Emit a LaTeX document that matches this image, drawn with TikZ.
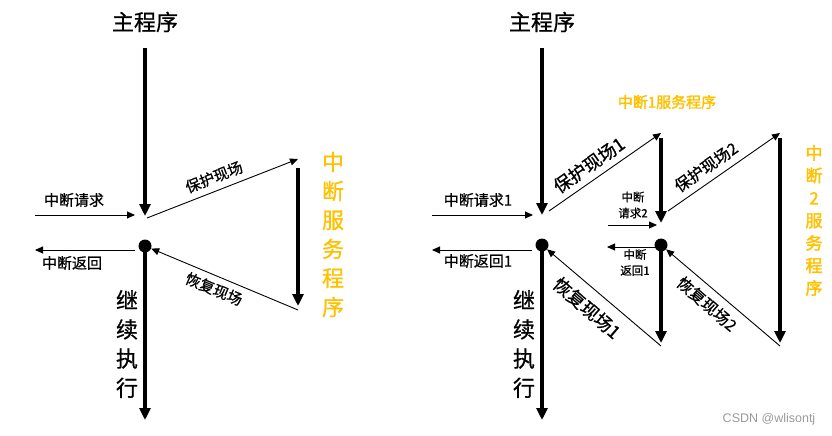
\documentclass[tikz,border=0pt]{standalone}
\usepackage{fontspec}
\setmainfont{Noto Sans CJK SC}
\newfontfamily\medfont{Noto Sans CJK SC}[FakeBold=0.8]
\newfontfamily\boldfont{Noto Sans CJK SC}[FakeBold=2]
\newfontfamily\latinsans{Liberation Sans}
\usetikzlibrary{arrows.meta}
\definecolor{svc}{HTML}{FFC000}
\definecolor{wm}{HTML}{9A9A9A}
\tikzset{
  x=1pt, y=-1pt,
  bigarrow/.style={line width=3.2pt, -{Triangle[length=12pt,width=11pt]}},
  thinarrow/.style={line width=0.9pt, -{Triangle[length=8pt,width=7pt]}},
  title/.style={font=\medfont\fontsize{22}{26}\selectfont, inner sep=0pt},
  lbl/.style={font=\medfont\fontsize{15}{17}\selectfont, inner sep=0pt},
  rlbla/.style={font=\medfont\fontsize{18}{20}\selectfont, inner sep=0pt},
  rlblb/.style={font=\medfont\fontsize{16}{18}\selectfont, inner sep=0pt},
  small/.style={font=\medfont\fontsize{11.5}{16}\selectfont, align=center, inner sep=0pt},
  vbig/.style={font=\medfont\fontsize{22}{29.2}\selectfont, align=center, inner sep=0pt},
  vsvcbig/.style={font=\medfont\fontsize{22}{29}\selectfont, align=center, inner sep=0pt, text=svc},
  vsvcsmall/.style={font=\boldfont\fontsize{17}{22.5}\selectfont, align=center, inner sep=0pt, text=svc},
  dot/.style={circle, fill=black, minimum size=13pt, inner sep=0pt},
}
\begin{document}
\begin{tikzpicture}
\useasboundingbox (0,0) rectangle (832,436);

% ---------------- left diagram ----------------
\node[title] (lt) at (145,22) {主程序};
\coordinate (lms) at (145,48);
\coordinate (lj) at (145,216);
\draw[bigarrow] (lms) -- (lj);

\coordinate (lrq0) at (35,215);
\coordinate (lrq1) at (135,215);
\draw[thinarrow] (lrq0) -- (lrq1);
\node[lbl] (lrqt) at (74,200) {中断请求};

\coordinate (lps) at (147,218);
\coordinate (lpe) at (298,159);
\draw[thinarrow] (lps) -- (lpe);
\node[lbl, rotate=21.3] (lpt) at (214,177) {保护现场};

\coordinate (lss) at (298,168);
\coordinate (lse) at (298,306);
\draw[bigarrow] (lss) -- (lse);
\node[vsvcbig] (lsvc) at (333,234.5) {中\\断\\服\\务\\程\\序};

\node[dot] (ld) at (145,246) {};
\coordinate (lrs) at (298,310);
\draw[thinarrow] (lrs) -- (ld);
\node[lbl, rotate=-22.7] (lrt) at (214,289) {恢复现场};

\coordinate (lrt0) at (135,250);
\coordinate (lrt1) at (35,250);
\draw[thinarrow] (lrt0) -- (lrt1);
\node[lbl] (lrtt) at (72,263) {中断返回};

\coordinate (lce) at (145,420);
\draw[bigarrow] (ld.center) -- (lce);
\node[vbig] (lct) at (127,344) {继\\续\\执\\行};

% ---------------- right diagram ----------------
\node[title] (rt) at (542,22) {主程序};
\coordinate (rms) at (542,48);
\coordinate (rj) at (542,215);
\draw[bigarrow] (rms) -- (rj);

\coordinate (rrq0) at (432,215);
\coordinate (rrq1) at (533,215);
\draw[thinarrow] (rrq0) -- (rrq1);
\node[lbl] (rrqt) at (478,200) {中断请求1};

\coordinate (rp1s) at (549,211);
\coordinate (rp1e) at (661,133);
\draw[thinarrow] (rp1s) -- (rp1e);
\node[rlbla, rotate=35] (rp1t) at (589,165) {保护现场1};

\node[inner sep=0pt, text=svc, font=\boldfont\fontsize{15}{17}\selectfont] (rs1t) at (667,102) {中断1服务程序};

\coordinate (rs1s) at (661,138);
\coordinate (rs1e) at (661,223);
\draw[bigarrow] (rs1s) -- (rs1e);

\node[small] (rq2t) at (633,205) {中断\\请求2};
\coordinate (rq20) at (608,225);
\coordinate (rq21) at (657,225);
\draw[thinarrow] (rq20) -- (rq21);

\coordinate (rp2s) at (668,211);
\coordinate (rp2e) at (780,133);
\draw[thinarrow] (rp2s) -- (rp2e);
\node[rlblb, rotate=35] (rp2t) at (706,167) {保护现场2};

\coordinate (rs2s) at (780,138);
\coordinate (rs2e) at (780,343);
\draw[bigarrow] (rs2s) -- (rs2e);
\node[vsvcsmall] (rs2t) at (814,220.5) {中\\断\\2\\服\\务\\程\\序};

\node[dot] (rd2) at (661,245) {};
\coordinate (rd2e) at (661,343);
\draw[bigarrow] (rd2.center) -- (rd2e);

\coordinate (rb20) at (655,247);
\coordinate (rb21) at (607,247);
\draw[thinarrow] (rb20) -- (rb21);
\node[small] (rb2t) at (635,262.5) {中断\\返回1};

\coordinate (rr2s) at (780,346);
\draw[thinarrow] (rr2s) -- (rd2);
\node[rlblb, rotate=-41] (rr2t) at (707,304) {恢复现场2};

\node[dot] (rd1) at (542,245) {};
\coordinate (rr1s) at (661,346);
\draw[thinarrow] (rr1s) -- (rd1);
\node[rlbla, rotate=-41] (rr1t) at (587,308) {恢复现场1};

\coordinate (rbt0) at (532,250);
\coordinate (rbt1) at (432,250);
\draw[thinarrow] (rbt0) -- (rbt1);
\node[lbl] (rbtt) at (478,261) {中断返回1};

\coordinate (rce) at (542,420);
\draw[bigarrow] (rd1.center) -- (rce);
\node[vbig] (rct) at (524,344) {继\\续\\执\\行};

\node[font=\latinsans\fontsize{12.5}{14}\selectfont, text=wm, inner sep=0pt] (wmk) at (769,419) {CSDN @wlisontj};
\end{tikzpicture}
\end{document}
